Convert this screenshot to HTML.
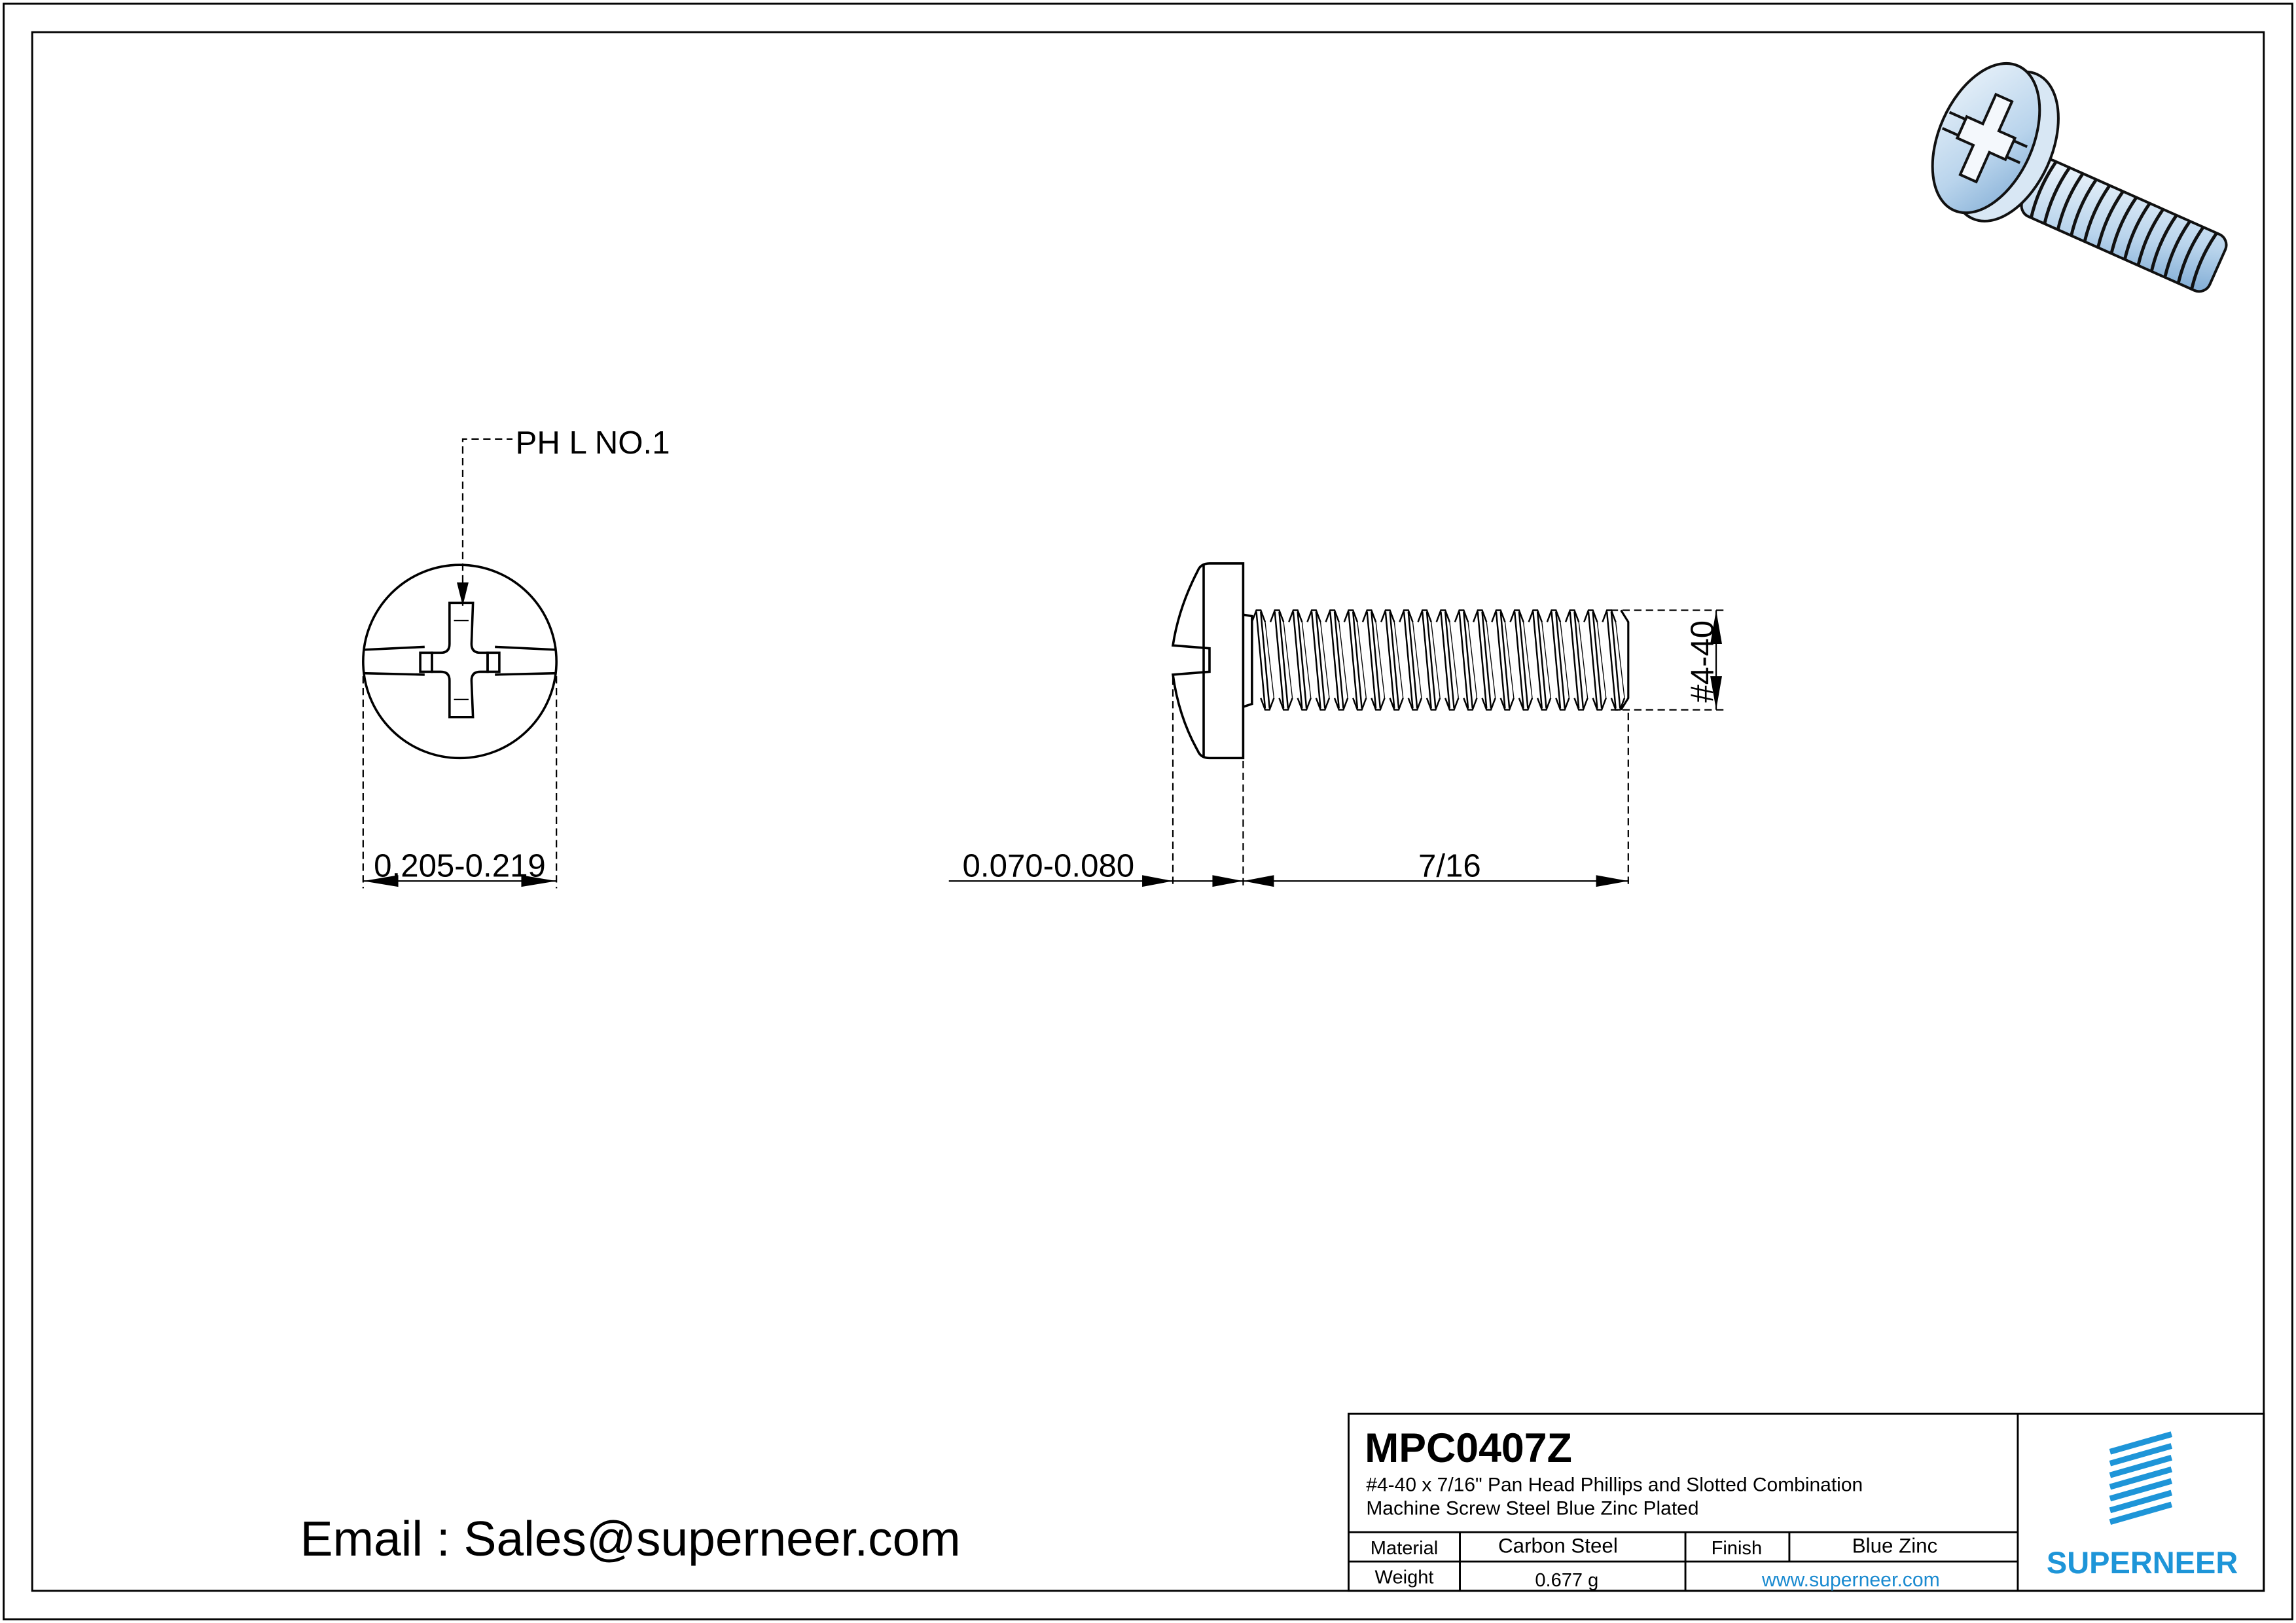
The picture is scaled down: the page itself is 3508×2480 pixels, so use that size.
<!DOCTYPE html>
<html><head><meta charset="utf-8"><style>
html,body{margin:0;padding:0;background:#fff}
svg{display:block}
text{font-family:"Liberation Sans",Arial,sans-serif}
</style></head><body>
<svg width="3508" height="2480" viewBox="0 0 1568 1109" preserveAspectRatio="none" xmlns="http://www.w3.org/2000/svg">
<defs>
<linearGradient id="bl" x1="0" y1="0" x2="1" y2="1"><stop offset="0" stop-color="#eef5fb"/><stop offset="0.6" stop-color="#b9d4ec"/><stop offset="1" stop-color="#7fabd4"/></linearGradient>
<g id="tooth" fill="none" stroke="#000" stroke-width="1.1">
<path d="M0,425 L3,417 L6,417 L9,425"/>
<path d="M6,477 L9,485 L12,485 L15,477"/>
<path d="M3,418 L9,484"/>
<path d="M6,418 L12,484"/>
<path d="M9,425 L15,477" stroke-width="0.6"/>
</g>
</defs>
<rect x="0" y="0" width="1568" height="1109" fill="#fff"/>
<rect x="2.5" y="2.5" width="1563" height="1104" fill="none" stroke="#000" stroke-width="1.3"/>
<rect x="22" y="22" width="1524" height="1065" fill="none" stroke="#000" stroke-width="1.3"/>

<!-- front view -->
<g fill="none" stroke="#000" stroke-width="1.6">
<circle cx="314" cy="452" r="66"/>
<path d="M248,444 L290,442 M338,442 L380,444 M248,460 L290,461 M338,461 L380,460"/>
<rect x="287" y="446" width="8" height="13"/>
<rect x="333" y="446" width="8" height="13"/>
<path d="M307,412 L323,412 L322,440 Q322,446 328,446 L333,446 L333,459 L328,459 Q322,459 322,465 L323,490 L307,490 L307,465 Q307,459 301,459 L295,459 L295,446 L301,446 Q307,446 307,440 Z"/>
<path d="M310,424 L320,424 M310,478 L320,478" stroke-width="1"/>
</g>
<path d="M316,414 L316,300 L350,300" fill="none" stroke="#000" stroke-width="1" stroke-dasharray="5,3"/>
<path d="M316,414 L312,398 L320,398 Z" fill="#000"/>
<text x="352" y="310" font-size="22">PH L NO.1</text>
<path d="M248,462 L248,607 M380,462 L380,607" stroke="#000" stroke-width="1" stroke-dasharray="5,3"/>
<path d="M248,602 L380,602" stroke="#000" stroke-width="1"/>
<path d="M248,602 L272,598 L272,606 Z M380,602 L356,598 L356,606 Z" fill="#000"/>
<text x="314" y="599" font-size="22" text-anchor="middle">0.205-0.219</text>

<!-- side view -->
<g fill="none" stroke="#000" stroke-width="1.6">
<path d="M849,385 L826,385 Q820,385 818,390 Q805,415 801,441 L826,443 L826,459 L801,461 Q805,490 818,513 Q820,518 826,518 L849,518 Z"/>
<path d="M822,386 L822,517"/>
<path d="M849,420 L855,421 L855,481 L849,483"/>
</g>
<g>
<use href="#tooth" x="855"/><use href="#tooth" x="867.6"/><use href="#tooth" x="880.2"/><use href="#tooth" x="892.8"/>
<use href="#tooth" x="905.4"/><use href="#tooth" x="918"/><use href="#tooth" x="930.6"/><use href="#tooth" x="943.2"/>
<use href="#tooth" x="955.8"/><use href="#tooth" x="968.4"/><use href="#tooth" x="981"/><use href="#tooth" x="993.6"/>
<use href="#tooth" x="1006.2"/><use href="#tooth" x="1018.8"/><use href="#tooth" x="1031.4"/><use href="#tooth" x="1044"/>
<use href="#tooth" x="1056.6"/><use href="#tooth" x="1069.2"/><use href="#tooth" x="1081.8"/><use href="#tooth" x="1094.4"/>
</g>
<path d="M1107,417 L1112,425 L1112,477 L1107,485" fill="none" stroke="#000" stroke-width="1.4"/>
<path d="M1100,417 L1178,417 M1100,485 L1178,485" stroke="#000" stroke-width="1" stroke-dasharray="5,3"/>
<path d="M1172,417 L1172,485" stroke="#000" stroke-width="1"/>
<path d="M1172,417 L1168,440 L1176,440 Z M1172,485 L1168,462 L1176,462 Z" fill="#000"/>
<text transform="translate(1170,452) rotate(-90)" font-size="22" text-anchor="middle">#4-40</text>
<path d="M801,463 L801,607 M849,520 L849,607 M1112,487 L1112,607" stroke="#000" stroke-width="1" stroke-dasharray="5,3"/>
<path d="M648,602 L1112,602" stroke="#000" stroke-width="1"/>
<path d="M801,602 L780,598 L780,606 Z M849,602 L870,598 L870,606 Z M849,602 L828,598 L828,606 Z M1112,602 L1090,598 L1090,606 Z" fill="#000"/>
<text x="716" y="599" font-size="22" text-anchor="middle">0.070-0.080</text>
<text x="990" y="599" font-size="22" text-anchor="middle">7/16</text>

<!-- 3D screw -->
<g transform="translate(1392,128) rotate(24)" stroke="#111" stroke-width="1.8">
<rect x="-6" y="-21" width="140" height="42" rx="8" fill="url(#bl)"/>
<g fill="none" stroke-width="2.2">
<path d="M4,-21 Q0,0 4,21 M14,-21 Q10,0 14,21 M24,-21 Q20,0 24,21 M34,-21 Q30,0 34,21 M44,-21 Q40,0 44,21 M54,-21 Q50,0 54,21 M64,-21 Q60,0 64,21 M74,-21 Q70,0 74,21 M84,-21 Q80,0 84,21 M94,-21 Q90,0 94,21 M104,-21 Q100,0 104,21 M114,-21 Q110,0 114,21 M124,-21 Q120,0 124,21"/>
</g>
</g>
<g transform="translate(1360,96) rotate(24)" stroke="#111" stroke-width="1.8">
<ellipse cx="10" cy="0" rx="32" ry="54" fill="#d8e7f4"/>
<ellipse cx="-4" cy="0" rx="32" ry="54" fill="url(#bl)"/>
<path d="M-34,-6 L24,-6 M-34,6 L24,6" fill="none"/>
<path d="M-10,-30 L2,-30 L2,-8 L14,-8 L14,8 L2,8 L2,30 L-10,30 L-10,8 L-22,8 L-22,-8 L-10,-8 Z" fill="#f4f8fc"/>
</g>

<!-- email -->
<text x="205" y="1063" font-size="33.5">Email : Sales@superneer.com</text>

<!-- title block -->
<g fill="none" stroke="#000" stroke-width="1.3">
<rect x="921" y="966" width="625" height="121"/>
<path d="M1378,966 L1378,1087 M921,1047 L1378,1047 M921,1067 L1378,1067 M997,1047 L997,1087 M1151,1047 L1151,1087 M1222,1047 L1222,1067"/>
</g>
<text x="932" y="999" font-size="28" font-weight="bold">MPC0407Z</text>
<text x="933" y="1019" font-size="13.4">#4-40 x 7/16" Pan Head Phillips and Slotted Combination</text>
<text x="933" y="1035" font-size="13.4">Machine Screw Steel Blue Zinc Plated</text>
<text x="959" y="1062" font-size="13" text-anchor="middle">Material</text>
<text x="1064" y="1061" font-size="14" text-anchor="middle">Carbon Steel</text>
<text x="1186" y="1062" font-size="13" text-anchor="middle">Finish</text>
<text x="1294" y="1061" font-size="14" text-anchor="middle">Blue Zinc</text>
<text x="959" y="1082" font-size="13" text-anchor="middle">Weight</text>
<text x="1070" y="1084" font-size="13" text-anchor="middle">0.677 g</text>
<text x="1264" y="1084" font-size="13.5" text-anchor="middle" fill="#1a8ad0">www.superneer.com</text>
<g stroke="#1e95d8" stroke-width="4" stroke-linecap="butt">
<path d="M1441,992 L1483,980 M1441,1000 L1483,988 M1441,1008 L1483,996 M1441,1016 L1483,1004 M1441,1024 L1483,1012 M1441,1032 L1483,1020 M1441,1040 L1483,1028"/>
</g>
<text x="1463" y="1075" font-size="21" font-weight="bold" fill="#1e95d8" text-anchor="middle">SUPERNEER</text>
</svg>
</body></html>
